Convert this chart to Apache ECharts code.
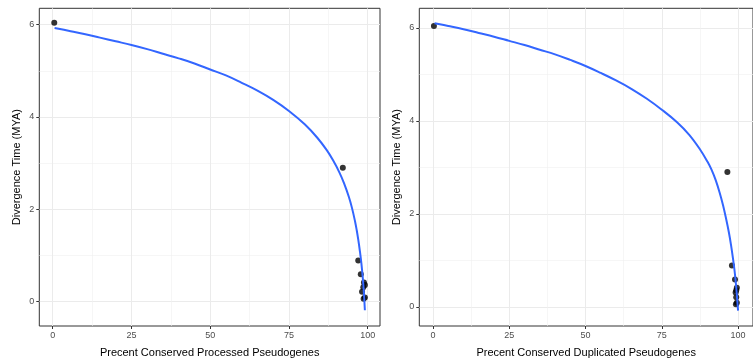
<!DOCTYPE html>
<html>
<head>
<meta charset="utf-8">
<script src="https://cdn.jsdelivr.net/npm/echarts@6/dist/echarts.min.js"></script>
<style>
  html, body { margin: 0; padding: 0; background: #fff; }
  #chart { width: 753px; height: 363px; }
</style>
</head>
<body>
<div id="chart"></div>
<script>
// Divergence time (MYA) for each sample
const divergence = [6.04, 2.90, 0.89, 0.59, 0.41, 0.36, 0.31, 0.21, 0.09, 0.06];

// Percent conserved, processed pseudogenes
const processedPct = [0.5, 92.1, 97.0, 97.8, 98.8, 99.1, 98.6, 98.2, 99.1, 98.7];
// Percent conserved, duplicated pseudogenes
const duplicatedPct = [0.3, 96.5, 98.0, 99.0, 99.6, 99.4, 99.2, 99.4, 99.6, 99.3];

// Fitted trend, processed pseudogenes
const processedFitX = [0.6, 5, 10, 15, 20, 25, 30, 35, 40, 45, 50, 55, 60, 65, 70, 75, 80, 84, 87, 89, 91, 92.5, 94, 95, 96, 96.5, 97, 97.5, 98, 98.5, 98.8, 99.1];
const processedFitY = [5.93, 5.87, 5.80, 5.72, 5.64, 5.56, 5.47, 5.37, 5.27, 5.16, 5.03, 4.90, 4.74, 4.57, 4.37, 4.13, 3.84, 3.55, 3.28, 3.06, 2.80, 2.56, 2.27, 2.03, 1.73, 1.55, 1.34, 1.10, 0.82, 0.46, 0.18, -0.19];

// Fitted trend, duplicated pseudogenes
const duplicatedFitX = [0.5, 5, 10, 15, 20, 25, 30, 35, 40, 45, 50, 55, 60, 65, 70, 75, 80, 84, 87.6, 90, 91.3, 92.7, 94, 95.1, 96.1, 97, 97.7, 98.3, 98.8, 99.1, 99.4, 99.7, 100];
const duplicatedFitY = [6.10, 6.04, 5.97, 5.89, 5.81, 5.72, 5.63, 5.53, 5.43, 5.31, 5.18, 5.03, 4.87, 4.69, 4.48, 4.24, 3.97, 3.70, 3.38, 3.12, 2.95, 2.72, 2.45, 2.18, 1.89, 1.60, 1.33, 1.06, 0.81, 0.63, 0.42, 0.18, -0.08];

const xMajor = [0, 25, 50, 75, 100];
const xMinor = [12.5, 37.5, 62.5, 87.5];
const yMajor = [0, 2, 4, 6];
const yMinor = [1, 3, 5];

const xTitles = ['Precent Conserved Processed Pseudogenes', 'Precent Conserved Duplicated Pseudogenes'];
const yTitle = 'Divergence Time (MYA)';

const FONT = 'Liberation Sans, Arial, Helvetica, sans-serif';
const panels = [
  { left: 39.3, xMin: -4.25, xMax: 103.9, yMin: -0.53, yMax: 6.355, px: processedPct, fx: processedFitX, fy: processedFitY },
  { left: 419.3, xMin: -4.49, xMax: 104.9, yMin: -0.41, yMax: 6.42, px: duplicatedPct, fx: duplicatedFitX, fy: duplicatedFitY }
];

const grid = [], xAxis = [], yAxis = [], series = [];
panels.forEach((p, i) => {
  grid.push({
    left: p.left, top: 8.3, width: 340.7, height: 323.7,
    show: true, backgroundColor: '#fff', borderColor: '#333333', borderWidth: 1
  });
  // major axis: ticks, labels and major grid
  xAxis.push({
    type: 'value', gridIndex: i, min: p.xMin, max: p.xMax, position: 'bottom',
    name: xTitles[i], nameLocation: 'middle', nameGap: 21,
    nameTextStyle: { color: '#000', fontSize: 11, fontFamily: FONT },
    axisLine: { show: false, onZero: false },
    axisTick: { show: true, length: 3, customValues: xMajor, lineStyle: { color: '#333333', width: 1 } },
    axisLabel: { customValues: xMajor, margin: 5, color: '#4d4d4d', fontSize: 9, fontFamily: FONT },
    splitLine: { show: true, lineStyle: { color: '#ebebeb', width: 1 } }
  });
  // minor grid only
  xAxis.push({
    type: 'value', gridIndex: i, min: p.xMin, max: p.xMax, position: 'top',
    axisLine: { show: false, onZero: false },
    axisTick: { show: false, customValues: xMinor },
    axisLabel: { show: false },
    splitLine: { show: true, lineStyle: { color: '#f0f0f0', width: 0.6 } }
  });
  yAxis.push({
    type: 'value', gridIndex: i, min: p.yMin, max: p.yMax, position: 'left',
    name: yTitle, nameLocation: 'middle', nameGap: 17, nameRotate: 90,
    nameTextStyle: { color: '#000', fontSize: 11, fontFamily: FONT },
    axisLine: { show: false, onZero: false },
    axisTick: { show: true, length: 3, customValues: yMajor, lineStyle: { color: '#333333', width: 1 } },
    axisLabel: { customValues: yMajor, margin: 5, color: '#4d4d4d', fontSize: 9, fontFamily: FONT },
    splitLine: { show: true, lineStyle: { color: '#ebebeb', width: 1 } }
  });
  yAxis.push({
    type: 'value', gridIndex: i, min: p.yMin, max: p.yMax, position: 'right',
    axisLine: { show: false, onZero: false },
    axisTick: { show: false, customValues: yMinor },
    axisLabel: { show: false },
    splitLine: { show: true, lineStyle: { color: '#f0f0f0', width: 0.6 } }
  });

  series.push({
    type: 'scatter', xAxisIndex: i * 2, yAxisIndex: i * 2,
    data: p.px.map((x, k) => [x, divergence[k]]),
    symbolSize: 6, itemStyle: { color: '#000' }, z: 3, silent: true
  });
  series.push({
    type: 'line', xAxisIndex: i * 2, yAxisIndex: i * 2,
    data: p.fx.map((x, k) => [x, p.fy[k]]),
    showSymbol: false, smooth: 0.4,
    lineStyle: { color: '#3366FF', width: 2 }, z: 4, silent: true
  });
});

const chart = echarts.init(document.getElementById('chart'), null, { renderer: 'canvas' });
chart.setOption({
  animation: false,
  backgroundColor: '#fff',
  grid, xAxis, yAxis, series
});
</script>
</body>
</html>
